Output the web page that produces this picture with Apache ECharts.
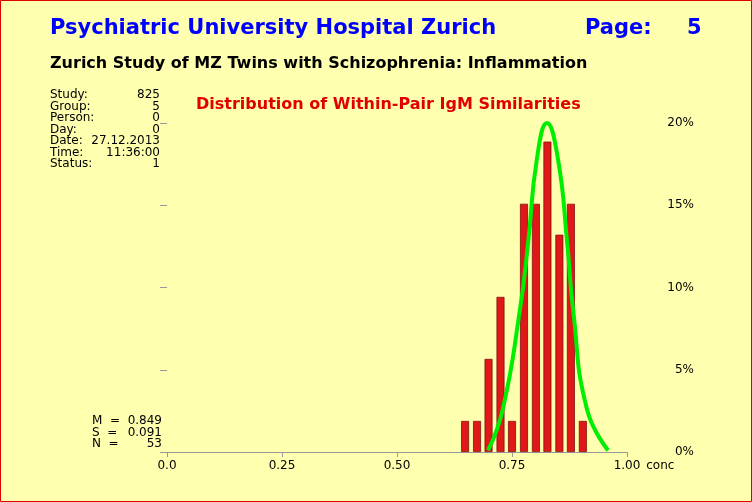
<!DOCTYPE html>
<html><head><meta charset="utf-8">
<script src="https://cdn.jsdelivr.net/npm/echarts@6/dist/echarts.min.js"></script>
<style>html,body{margin:0;padding:0;background:#ffffb0}#c{width:752px;height:502px}</style>
</head><body><div id="c"></div>
<script>
// histogram bin centres (conc) and percent of pairs
var binCenters = [0.648, 0.674, 0.699, 0.725, 0.750, 0.776, 0.802, 0.827, 0.853, 0.878, 0.904];
var binPercent = [1.89, 1.89, 5.66, 9.43, 1.89, 15.09, 15.09, 18.87, 13.21, 15.09, 1.89];
// fitted normal curve
var curveX = [0.698, 0.730, 0.767, 0.785, 0.804, 0.826, 0.850, 0.870, 0.883, 0.913, 0.959];
var curveY = [0.1, 2.6, 8.6, 12.7, 17.8, 20.0, 17.8, 12.7, 8.6, 2.6, 0.1];
var xTicks = ['0.0', '0.25', '0.50', '0.75', '1.00'];
var infoLabels = ['Study:', 'Group:', 'Person:', 'Day:', 'Date:', 'Time:', 'Status:'];
var infoValues = ['825', '5', '0', '0', '27.12.2013', '11:36:00', '1'];
var statLabels = ['M  =', 'S  =', 'N  ='];
var statValues = ['0.849', '0.091', '53'];

var chart = echarts.init(document.getElementById('c'));
var font = 'Verdana, "DejaVu Sans", sans-serif';
var g = [
  {type:'rect', shape:{x:0.5,y:0.5,width:751,height:501}, style:{fill:'none', stroke:'#e00000', lineWidth:1}},
  {type:'text', left:50, top:18, style:{text:'Psychiatric University Hospital Zurich', font:'bold 21px '+font, fill:'#0000ff'}},
  {type:'text', left:585, top:18, style:{text:'Page:', font:'bold 21px '+font, fill:'#0000ff'}},
  {type:'text', left:687, top:18, style:{text:'5', font:'bold 21px '+font, fill:'#0000ff'}},
  {type:'text', left:50, top:56, style:{text:'Zurich Study of MZ Twins with Schizophrenia: Inflammation', font:'bold 16px '+font, fill:'#000'}},
  {type:'text', left:196, top:97, style:{text:'Distribution of Within-Pair IgM Similarities', font:'bold 16px '+font, fill:'#e00000'}}
];
infoLabels.forEach(function (t, i) {
  g.push({type:'text', left:50, top:89 + i*11.5, style:{text:t, font:'12px '+font, fill:'#000'}});
  g.push({type:'text', right:752-160, top:89 + i*11.5, style:{text:infoValues[i], font:'12px '+font, fill:'#000', align:'right'}});
});
statLabels.forEach(function (t, i) {
  g.push({type:'text', left:92, top:415 + i*11.5, style:{text:t, font:'12px '+font, fill:'#000'}});
  g.push({type:'text', right:752-162, top:415 + i*11.5, style:{text:statValues[i], font:'12px '+font, fill:'#000', align:'right'}});
});

chart.setOption({
  backgroundColor: '#ffffb0',
  animation: false,
  graphic: g,
  grid: {left:167, right:125, top:123, bottom:50},
  xAxis: {
    type:'value', min:0, max:1, interval:0.25,
    name:'conc', nameGap:12, nameTextStyle:{color:'#000', fontSize:12, fontFamily:font, verticalAlign:'top', padding:[8,0,0,0]},
    axisLine:{lineStyle:{color:'#999'}}, axisTick:{show:true, length:5, lineStyle:{color:'#999'}},
    splitLine:{show:false},
    axisLabel:{color:'#000', fontSize:12, fontFamily:font, formatter:function (v) { return xTicks[Math.round(v/0.25)]; }}
  },
  yAxis: {
    type:'value', min:0, max:20, interval:5, position:'right', offset:76,
    axisLine:{show:false}, splitLine:{show:false},
    axisTick:{show:true, inside:true, length:7, lineStyle:{color:'#999'}},
    axisLabel:{inside:true, margin:9, color:'#000', fontSize:12, fontFamily:font, formatter:'{value}%'}
  },
  series: [
    {type:'bar', barWidth:8, data:binCenters.map(function (x, i) { return [x, binPercent[i]]; }),
     itemStyle:{color:'#e01818', borderColor:'#801010', borderWidth:0.8}},
    {type:'line', smooth:true, symbol:'none', data:curveX.map(function (x, i) { return [x, curveY[i]]; }),
     lineStyle:{color:'#00ee00', width:4}}
  ]
});
</script></body></html>
